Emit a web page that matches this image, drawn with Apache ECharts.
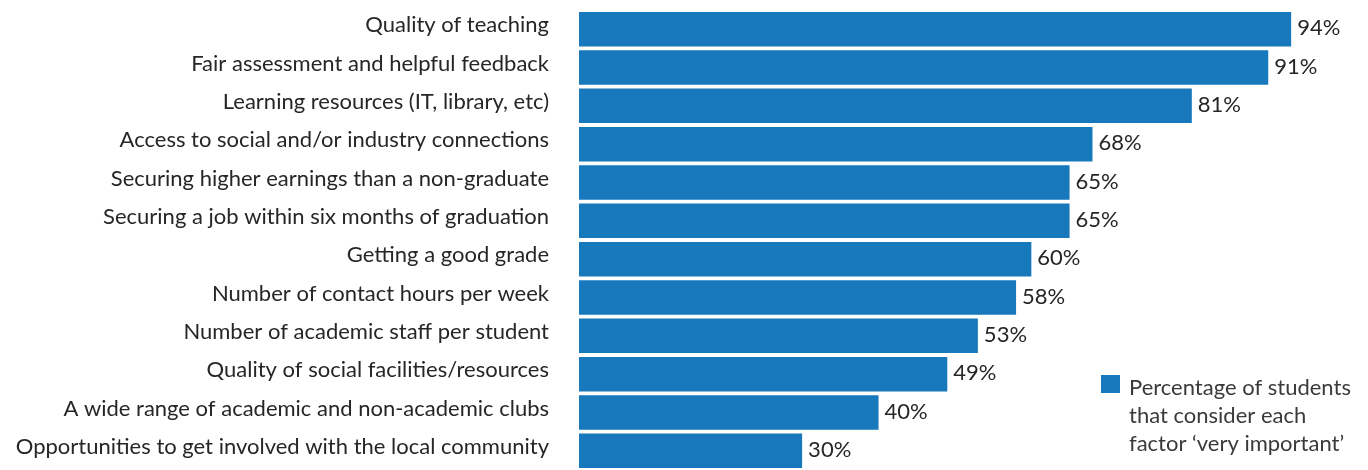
<!DOCTYPE html>
<html>
<head>
<meta charset="utf-8">
<script src="https://cdn.jsdelivr.net/npm/echarts@6/dist/echarts.min.js"></script>
<style>
html, body { margin: 0; padding: 0; background: #fff; }
#chart { width: 1368px; height: 470px; }
</style>
</head>
<body>
<div id="chart"></div>
<script>
// factors, top to bottom
var factors = [
    'Quality of teaching',
    'Fair assessment and helpful feedback',
    'Learning resources (IT, library, etc)',
    'Access to social and/or industry connections',
    'Securing higher earnings than a non-graduate',
    'Securing a job within six months of graduation',
    'Getting a good grade',
    'Number of contact hours per week',
    'Number of academic staff per student',
    'Quality of social facilities/resources',
    'A wide range of academic and non-academic clubs',
    'Opportunities to get involved with the local community'
];
var veryImportant = [94, 91, 81, 68, 65, 65, 60, 58, 53, 49, 40, 30];
var legendLines = ['Percentage of students', 'that consider each', 'factor \u2018very important\u2019'];
var seriesName = legendLines.join(' ');

var chart = echarts.init(document.getElementById('chart'));

var option = {
    animation: false,
    grid: {
        left: 579,
        right: 31,
        top: 10,
        height: 464.4
    },
    xAxis: {
        type: 'value',
        min: 0.8,   // bars start a few px in from zero, as in the original
        max: 100,
        show: false
    },
    yAxis: {
        type: 'category',
        inverse: true,
        data: factors,
        axisLine: { show: false },
        axisTick: { show: false },
        axisLabel: {
            margin: 30,
            fontSize: 22,
            fontFamily: 'Lato',
            color: '#262626',
            verticalAlign: 'bottom',
            lineHeight: 8
        }
    },
    legend: {
        left: 1101,
        top: 315,
        padding: 0,
        orient: 'vertical',
        selectedMode: false,
        icon: 'rect',
        itemWidth: 19,
        itemHeight: 18,
        formatter: function () {
            // two spacer lines so the first text line sits beside the icon
            return '{s|}\n{s|}\n' + legendLines.map(function (l) { return '{t|' + l + '}'; }).join('\n');
        },
        textStyle: {
            fontSize: 22,
            fontFamily: 'Lato',
            color: '#3a3a3a',
            rich: {
                s: { lineHeight: 32, fontSize: 22 },
                t: { lineHeight: 28, fontSize: 22, fontFamily: 'Lato', color: '#3a3a3a', padding: [0, 0, 0, 4] }
            }
        },
        data: [seriesName]
    },
    series: [{
        name: seriesName,
        type: 'bar',
        data: veryImportant,
        barWidth: 34.5,
        itemStyle: { color: '#1778bc' },
        label: {
            show: true,
            position: 'right',
            distance: 6,
            offset: [0, -1],
            formatter: '{c}%',
            fontSize: 22,
            fontFamily: 'Lato',
            color: '#262626'
        }
    }]
};

chart.setOption(option);
</script>
</body>
</html>
